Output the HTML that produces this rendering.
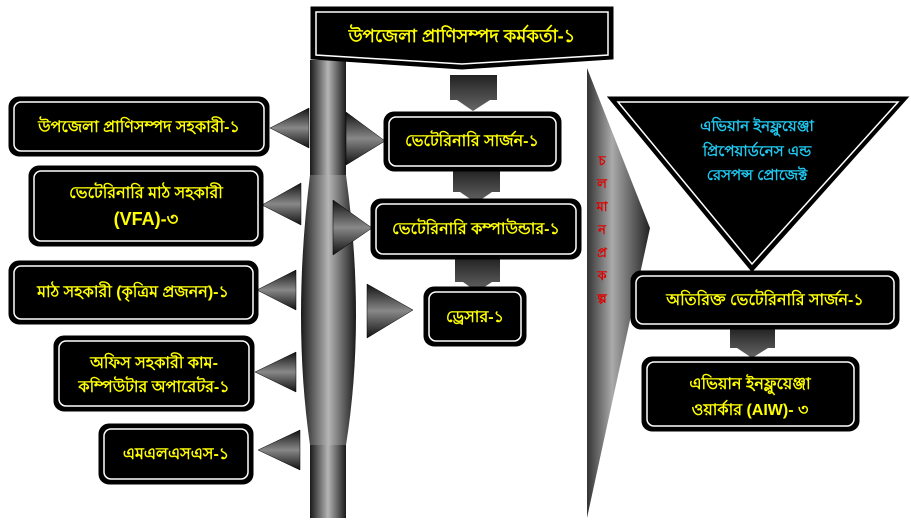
<!DOCTYPE html>
<html><head><meta charset="utf-8"><style>
html,body{margin:0;padding:0;background:#fff;width:911px;height:530px;overflow:hidden}
svg{display:block}
text{font-family:"Liberation Sans","Noto Sans CJK SC",sans-serif;font-weight:bold}
.y{fill:#ffff00;font-size:16px}
</style></head><body>
<svg width="911" height="530" viewBox="0 0 911 530" xmlns="http://www.w3.org/2000/svg">
<defs>
<linearGradient id="hg" x1="0" x2="1" y1="0" y2="0">
<stop offset="0" stop-color="#1a1a1a"/><stop offset="0.5" stop-color="#b5b5b5"/><stop offset="1" stop-color="#1a1a1a"/></linearGradient>
<linearGradient id="tg" x1="0" x2="0" y1="0" y2="1">
<stop offset="0" stop-color="#111"/><stop offset="0.5" stop-color="#888"/><stop offset="1" stop-color="#111"/></linearGradient>
<linearGradient id="dg" x1="0" x2="0" y1="0" y2="1">
<stop offset="0" stop-color="#222"/><stop offset="1" stop-color="#666"/></linearGradient>
<linearGradient id="cg" x1="0" x2="1" y1="0" y2="0">
<stop offset="0" stop-color="#333"/><stop offset="0.4" stop-color="#aaa"/><stop offset="1" stop-color="#222"/></linearGradient>
</defs>

<path d="M310 60 H346 V518 H310 Z" fill="url(#hg)"/>
<path d="M310 175 Q292 320 310 445 H346 Q366 320 346 175 Z" fill="url(#hg)"/>

<g fill="url(#tg)" stroke="#000" stroke-width="0.5">
<polygon points="309,108 309,148 270,128"/>
<polygon points="301,183 301,225 262,205"/>
<polygon points="296,270 296,310 257,290"/>
<polygon points="296,352 296,392 255,372"/>
<polygon points="300,430 300,470 258,450"/>
<polygon points="346,112 346,165 385,141"/>
<polygon points="333,200 333,255 372,228"/>
<polygon points="367,284 367,338 413,310"/>
</g>

<g fill="url(#dg)">
<path d="M450 75 H497 V100 H490 L473 111 L457 100 H450 Z"/>
<path d="M453 170 H500 V192 H492 L476 203 L460 192 H453 Z"/>
<path d="M455 258 H500 V282 H492 L477 292 L463 282 H455 Z"/>
<path d="M730 328 H775 V348 H768 L752 358 L737 348 H730 Z"/>
</g>

<path d="M587 68 L650 228 L587 518 Z" fill="url(#cg)"/>
<g fill="#e00000" font-size="13" text-anchor="middle">
<text x="602" y="165">চ</text><text x="602" y="188">ল</text><text x="602" y="211">মা</text><text x="602" y="234">ন</text><text x="602" y="257">প্র</text><text x="602" y="280">ক</text><text x="602" y="303">ল্প</text>
</g>

<path d="M312 8 H612 V58 L462 68 L312 58 Z" fill="#000" stroke="#000" stroke-width="3"/>
<path d="M316 12 H608 V55 L462 64 L316 55 Z" fill="none" stroke="#fff" stroke-width="1.5"/>
<text class="y" x="462" y="42" text-anchor="middle" style="font-size:18px">উপজেলা প্রাণিসম্পদ কর্মকর্তা-১</text>

<polygon points="610,98 906,98 752,270" fill="#000" stroke="#000" stroke-width="3"/>
<polygon points="618,102 898,102 752,264" fill="none" stroke="#fff" stroke-width="1.5"/>
<g fill="#1ec8f0" font-size="15" text-anchor="middle">
<text x="757" y="131">এভিয়ান ইনফ্লুয়েঞ্জা</text>
<text x="757" y="156">প্রিপেয়ার্ডনেস এন্ড</text>
<text x="757" y="180">রেসপন্স প্রোজেক্ট</text>
</g>

<g fill="#000" stroke="#000" stroke-width="3">
<rect x="10" y="98" width="258" height="57" rx="9"/>
<rect x="30" y="167" width="232" height="78" rx="9"/>
<rect x="10" y="262" width="247" height="61" rx="9"/>
<rect x="55" y="337" width="198" height="73" rx="9"/>
<rect x="100" y="425" width="152" height="58" rx="9"/>
<rect x="385" y="113" width="175" height="57" rx="9"/>
<rect x="372" y="200" width="208" height="58" rx="9"/>
<rect x="425" y="288" width="100" height="57" rx="9"/>
<rect x="632" y="272" width="266" height="56" rx="9"/>
<rect x="643" y="358" width="215" height="72" rx="9"/>
</g>
<g fill="none" stroke="#fff" stroke-width="1.5">
<rect x="14" y="102" width="250" height="49" rx="7"/>
<rect x="34" y="171" width="224" height="70" rx="7"/>
<rect x="14" y="266" width="239" height="53" rx="7"/>
<rect x="59" y="341" width="190" height="65" rx="7"/>
<rect x="104" y="429" width="144" height="50" rx="7"/>
<rect x="389" y="117" width="167" height="49" rx="7"/>
<rect x="376" y="204" width="200" height="50" rx="7"/>
<rect x="429" y="292" width="92" height="49" rx="7"/>
<rect x="636" y="276" width="258" height="48" rx="7"/>
<rect x="647" y="362" width="207" height="64" rx="7"/>
</g>
<g text-anchor="middle">
<text class="y" x="139" y="132">উপজেলা প্রাণিসম্পদ সহকারী-১</text>
<text class="y" x="146" y="198">ভেটেরিনারি মাঠ সহকারী</text>
<text class="y" x="146" y="225" style="font-size:18px">(VFA)-৩</text>
<text class="y" x="133" y="297">মাঠ সহকারী (কৃত্রিম প্রজনন)-১</text>
<text class="y" x="154" y="368">অফিস সহকারী কাম-</text>
<text class="y" x="154" y="392">কম্পিউটার অপারেটর-১</text>
<text class="y" x="176" y="459">এমএলএসএস-১</text>
<text class="y" x="472" y="146">ভেটেরিনারি সার্জন-১</text>
<text class="y" x="476" y="234">ভেটেরিনারি কম্পাউন্ডার-১</text>
<text class="y" x="475" y="322">ড্রেসার-১</text>
<text class="y" x="765" y="305">অতিরিক্ত ভেটেরিনারি সার্জন-১</text>
<text class="y" x="750" y="389">এভিয়ান ইনফ্লুয়েঞ্জা</text>
<text class="y" x="750" y="415">ওয়ার্কার (AIW)- ৩</text>
</g>
</svg>
</body></html>
